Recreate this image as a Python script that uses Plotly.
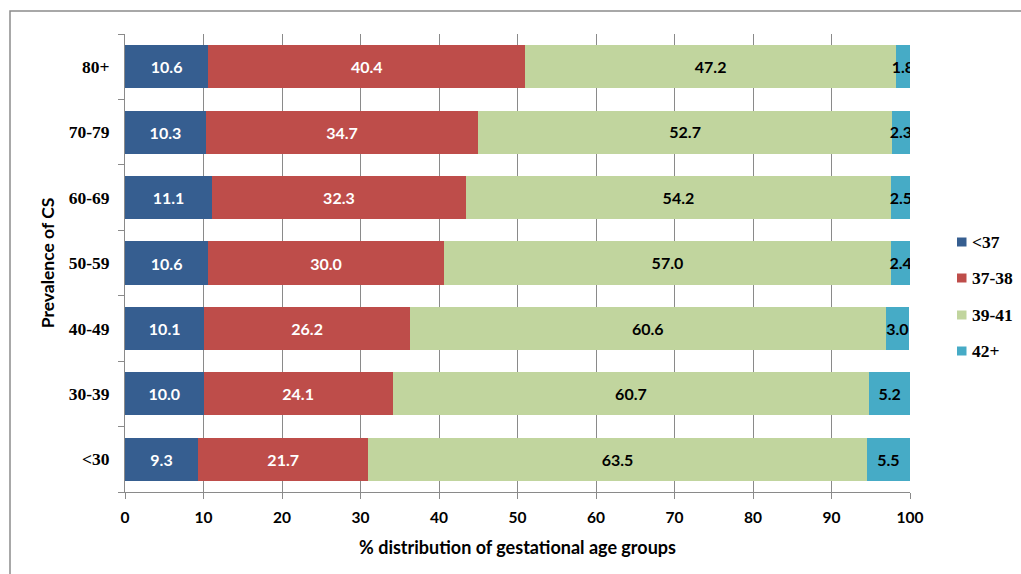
import plotly.graph_objects as go

# Prevalence-of-CS groups (bottom to top) and gestational-age shares (%)
categories = ["<30", "30-39", "40-49", "50-59", "60-69", "70-79", "80+"]
lt37 = [9.3, 10.0, 10.1, 10.6, 11.1, 10.3, 10.6]
w37_38 = [21.7, 24.1, 26.2, 30.0, 32.3, 34.7, 40.4]
w39_41 = [63.5, 60.7, 60.6, 57.0, 54.2, 52.7, 47.2]
w42p = [5.5, 5.2, 3.0, 2.4, 2.5, 2.3, 1.8]

# name, values, fill colour, label colour, label size
series = [
    ("<37", lt37, "#365E90", "white", 16),
    ("37-38", w37_38, "#BE4D4A", "white", 16),
    ("39-41", w39_41, "#C1D59E", "black", 18),
    ("42+", w42p, "#46ABC6", "black", 18),
]

sans = "Lato"
serif = "Liberation Serif"

fig = go.Figure()
for name, vals, color, tcolor, tsize in series:
    fig.add_trace(go.Bar(
        y=categories, x=vals, name=name, orientation="h",
        marker=dict(color=color, line=dict(width=0)),
        text=[f"{v:.1f}" for v in vals],
        textposition="inside", insidetextanchor="middle", textangle=0,
        constraintext="none",
        insidetextfont=dict(family=sans, size=tsize, color=tcolor, weight="bold"),
        showlegend=False,
        hoverinfo="skip",
    ))

# Legend drawn at the right: small swatch plus serif label per series
L = 125
PW = 785
T = 34
PH = 458
legend_y = [242, 278, 315, 351]
shapes = [dict(
    type="rect", xref="paper", yref="paper",
    x0=(10 - L) / PW, x1=2.0, y0=-1.0, y1=1 + (T - 11) / PH,
    line=dict(color="#8C8C8C", width=1.5), fillcolor="rgba(0,0,0,0)",
    layer="below",
)]
annotations = []
for (name, _, color, _, _), py in zip(series, legend_y):
    shapes.append(dict(
        type="rect", xref="paper", yref="paper",
        x0=(957 - L) / PW, x1=(966.5 - L) / PW,
        y0=(T + PH - py - 4.5) / PH, y1=(T + PH - py + 4.5) / PH,
        line=dict(width=0), fillcolor=color,
    ))
    annotations.append(dict(
        xref="paper", yref="paper", x=(970 - L) / PW, y=(T + PH - py) / PH,
        xanchor="left", yanchor="middle", showarrow=False, text=name,
        font=dict(family=serif, size=17.5, color="black", weight="bold"),
    ))

fig.update_layout(
    barmode="stack",
    bargap=0.34,
    width=1021, height=574,
    margin=dict(l=L, r=1021 - L - PW, t=T, b=574 - T - PH),
    paper_bgcolor="white", plot_bgcolor="white",
    uniformtext=dict(minsize=15, mode="show"),
    showlegend=False,
    xaxis=dict(
        range=[0, 100], dtick=10, tick0=0,
        showgrid=True, gridcolor="#8A8A8A", gridwidth=1,
        showline=True, linecolor="#8A8A8A", linewidth=1,
        ticks="outside", ticklen=6, tickcolor="#8A8A8A",
        tickfont=dict(family=sans, size=15.5, color="black", weight="bold"),
        ticklabelstandoff=5,
        title=dict(text="% distribution of gestational age groups",
                   font=dict(family=sans, size=18, color="black", weight="bold"),
                   standoff=16),
        zeroline=False,
    ),
    yaxis=dict(
        type="category", categoryorder="array", categoryarray=categories,
        showline=True, linecolor="#8A8A8A", linewidth=1,
        ticks="outside", ticklen=6, tickcolor="#8A8A8A",
        tickson="boundaries", showgrid=False,
        tickfont=dict(family=serif, size=17.5, color="black", weight="bold"),
        ticklabelstandoff=11,
        title=dict(text="Prevalence of CS",
                   font=dict(family=sans, size=17.5, color="black", weight="bold"),
                   standoff=9),
    ),
    shapes=shapes,
    annotations=annotations,
)

fig.write_html("out.html")
